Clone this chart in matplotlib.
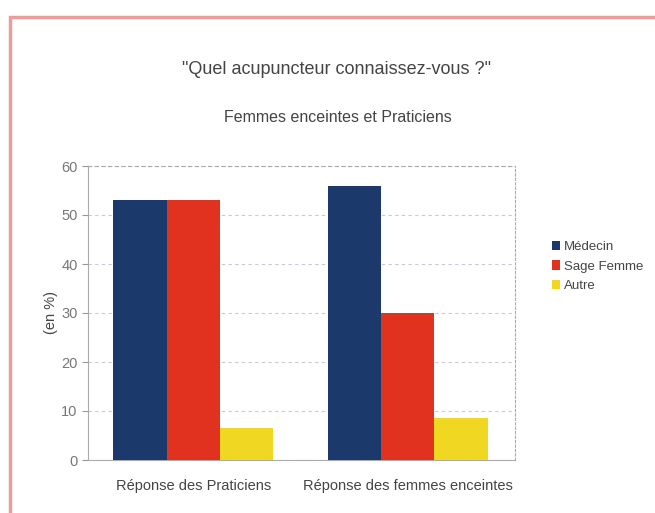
import matplotlib
matplotlib.use("Agg")
import matplotlib.pyplot as plt
import numpy as np
from matplotlib.patches import Rectangle

categories = ["Réponse des Praticiens", "Réponse des femmes enceintes"]
series_names = ["Médecin", "Sage Femme", "Autre"]
medecin = [53, 56]
sage_femme = [53, 30]
autre = [6.5, 8.5]
yticks = [0, 10, 20, 30, 40, 50, 60]

colors = ["#1b3a6b", "#e0321e", "#f0d822"]
font = ["Liberation Sans Narrow", "Liberation Sans", "DejaVu Sans"]
plt.rcParams["font.family"] = font

fig = plt.figure(figsize=(6.55, 5.13), dpi=100)
fig.patches.append(Rectangle((10/655, -0.05), 1.1, 1 - 17/513 + 0.05,
                             transform=fig.transFigure, fill=False,
                             edgecolor="#eb9d9d", linewidth=2.5, zorder=0))

ax = fig.add_axes([88/655, 1 - 460/513, (515 - 88)/655, (460 - 166)/513])
x = np.arange(len(categories))
w = 0.248
for i, (name, vals) in enumerate(zip(series_names, [medecin, sage_femme, autre])):
    ax.bar(x + (i - 1) * w, vals, width=w, color=colors[i], label=name, zorder=3)

ax.set_xlim(-0.49, 1.5)
ax.set_ylim(0, 60)
ax.set_yticks(yticks)
ax.set_xticks(x)
ax.set_xticklabels(categories, fontsize=10.5, color="#444444")
ax.tick_params(axis="y", labelsize=10.5, labelcolor="#777777", color="#999999", length=4)
ax.tick_params(axis="x", length=0, pad=14)
ax.yaxis.grid(True, linestyle=(0, (3, 3)), color="#c8c8d8", linewidth=0.8, zorder=0)
for s in ax.spines.values():
    s.set_color("#aaaaaa")
    s.set_linewidth(0.8)
ax.spines["top"].set_linestyle((0, (3, 3)))
ax.spines["right"].set_linestyle((0, (2, 2)))
ax.set_ylabel("(en %)", fontsize=10.5, color="#444444", labelpad=2)

fig.text(337/655, 1 - 70/513, '"Quel acupuncteur connaissez-vous ?"',
         ha="center", va="center", fontsize=13, color="#444444")
fig.text(338/655, 1 - 117/513, "Femmes enceintes et Praticiens",
         ha="center", va="center", fontsize=11.5, color="#444444")

ax.legend(loc="upper left", bbox_to_anchor=(540/655, 1 - 229/513), bbox_transform=fig.transFigure,
          frameon=False, fontsize=9.5, handlelength=0.6, handleheight=0.7, handletextpad=0.3,
          labelspacing=0.55, labelcolor="#444444")

fig.savefig("out.png", dpi=100)
